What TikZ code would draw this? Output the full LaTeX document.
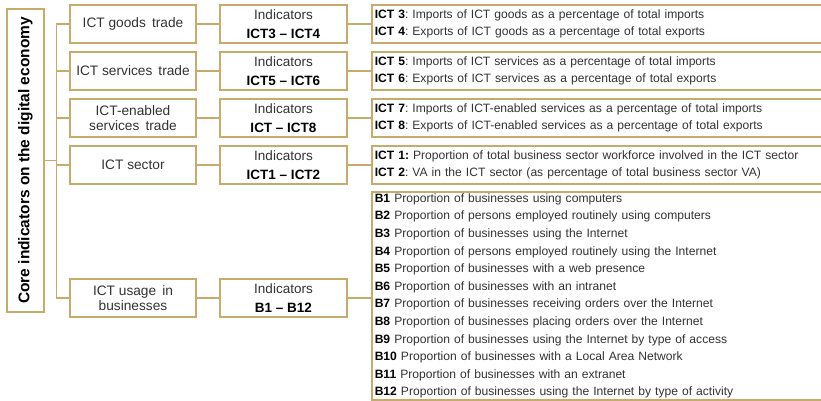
\documentclass[tikz,border=0pt]{standalone}
\usepackage{fontspec}
\setmainfont{Liberation Sans}
\definecolor{gold}{HTML}{C8AB6A}
\definecolor{txt}{HTML}{333333}
\frenchspacing
\begin{document}
\begin{tikzpicture}[x=1pt,y=-1pt,
  box/.style={draw=gold, line width=1.5pt, fill=white, inner sep=0pt},
  catbox/.style={box, minimum width=126pt, minimum height=38pt, align=center, text=txt,
     font=\fontsize{13.7}{15}\selectfont},
  indbox/.style={box, minimum width=127pt, minimum height=38pt, align=center, text=txt,
     font=\fontsize{13.5}{19}\selectfont},
  listbox/.style={box, anchor=west, minimum height=38pt, text width=455pt, align=left,
     inner xsep=3pt, text=txt, font=\fontsize{12.1}{17.6}\selectfont},
  link/.style={draw=gold, line width=1.5pt}]
\useasboundingbox (0,0) rectangle (821,401);
\clip (0,0) rectangle (821,401);
\fill[white] (0,0) rectangle (821,401);

\node[box, minimum width=37pt, minimum height=303pt] (core) at (25.5,160.5) {};
\node[rotate=90, font=\fontsize{15.5}{17}\bfseries\selectfont, text=black] (coretxt) at (core.center) {Core indicators on the digital economy};

\node[catbox] (c1) at (133,24) {ICT goods\, trade};
\node[catbox] (c2) at (133,71) {ICT services\, trade};
\node[catbox] (c3) at (133,118) {ICT-enabled\\services\, trade};
\node[catbox] (c4) at (133,165) {ICT sector};
\node[catbox] (c5) at (133,298) {ICT usage\, in\\businesses};

\node[indbox] (i1) at (283.5,24) {Indicators\\\textbf{\color{black}ICT3 -- ICT4}};
\node[indbox] (i2) at (283.5,71) {Indicators\\\textbf{\color{black}ICT5 -- ICT6}};
\node[indbox] (i3) at (283.5,118) {Indicators\\\textbf{\color{black}ICT -- ICT8}};
\node[indbox] (i4) at (283.5,165) {Indicators\\\textbf{\color{black}ICT1 -- ICT2}};
\node[indbox] (i5) at (283.5,298) {Indicators\\\textbf{\color{black}B1 -- B12}};

\node[listbox] (l1) at (371,24) {\textbf{\color{black}ICT 3}: Imports of ICT goods as a percentage of total imports\\\textbf{\color{black}ICT 4}: Exports of ICT goods as a percentage of total exports};
\node[listbox] (l2) at (371,71) {\textbf{\color{black}ICT 5}: Imports of ICT services as a percentage of total imports\\\textbf{\color{black}ICT 6}: Exports of ICT services as a percentage of total exports};
\node[listbox] (l3) at (371,118) {\textbf{\color{black}ICT 7}: Imports of ICT-enabled services as a percentage of total imports\\\textbf{\color{black}ICT 8}: Exports of ICT-enabled services as a percentage of total exports};
\node[listbox] (l4) at (371,165) {\textbf{\color{black}ICT 1:} Proportion of total business sector workforce involved in the ICT sector\\\textbf{\color{black}ICT 2}: VA in the ICT sector (as percentage of total business sector VA)};
\node[listbox, minimum height=208pt] (l5) at (371,296) {%
\textbf{\color{black}B1} Proportion of businesses using computers\\
\textbf{\color{black}B2} Proportion of persons employed routinely using computers\\
\textbf{\color{black}B3} Proportion of businesses using the Internet\\
\textbf{\color{black}B4} Proportion of persons employed routinely using the Internet\\
\textbf{\color{black}B5} Proportion of businesses with a web presence\\
\textbf{\color{black}B6} Proportion of businesses with an intranet\\
\textbf{\color{black}B7} Proportion of businesses receiving orders over the Internet\\
\textbf{\color{black}B8} Proportion of businesses placing orders over the Internet\\
\textbf{\color{black}B9} Proportion of businesses using the Internet by type of access\\
\textbf{\color{black}B10} Proportion of businesses with a Local Area Network\\
\textbf{\color{black}B11} Proportion of businesses with an extranet\\
\textbf{\color{black}B12} Proportion of businesses using the Internet by type of activity};

% trunk
\coordinate (ttop) at ([xshift=-13pt]c1.west);
\coordinate (tbot) at ([xshift=-13pt]c5.west);
\draw[link] (ttop) -- (tbot);
\draw[link] (core.east) -- (core.east -| ttop);
\foreach \k in {1,...,5}{
  \draw[link] (c\k.west) -- (c\k.west -| ttop);
  \draw[link] (c\k.east) -- (i\k.west);
  \draw[link] (i\k.east) -- (i\k.east -| l\k.west);
}
\end{tikzpicture}
\end{document}
